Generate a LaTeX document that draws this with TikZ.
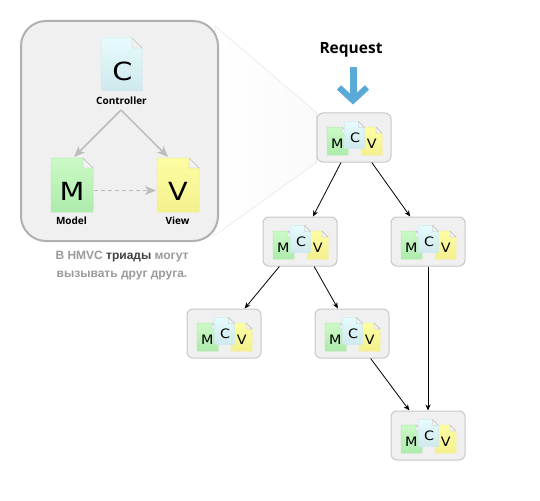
\documentclass[tikz,border=0pt]{standalone}
\usepackage{fontspec}
\setmainfont{Open Sans}
\newfontfamily\captionfont{Liberation Sans}
\newfontfamily\letterfont{DejaVu Sans}
\usetikzlibrary{arrows.meta}
\usetikzlibrary{backgrounds}
\usetikzlibrary{calc}

\definecolor{boxfill}{HTML}{F0F0F0}
\definecolor{boxline}{HTML}{C8C8C8}
\definecolor{panelline}{HTML}{B0B0B0}
\definecolor{mvcarrow}{HTML}{BDBDBD}
\definecolor{reqblue}{HTML}{5AA9D6}
\definecolor{captiongray}{HTML}{9A9A9A}
\definecolor{ctop}{HTML}{E6FBFD}
\definecolor{cbot}{HTML}{CFE9EC}
\definecolor{mtop}{HTML}{CBFAC6}
\definecolor{mbot}{HTML}{AEEBAC}
\definecolor{vtop}{HTML}{FDFDA2}
\definecolor{vbot}{HTML}{F4F08E}

\tikzset{
  triadbox/.style={draw=boxline, fill=boxfill, rounded corners=6, line width=1,
    minimum width=74, minimum height=49, inner sep=0},
  biglabel/.style={font=\fontsize{10}{11}\selectfont\bfseries, inner sep=0},
  bigletter/.style={font=\letterfont\fontsize{25}{25}\selectfont, xscale=1.15, inner sep=0},
  smallletter/.style={font=\letterfont\fontsize{13}{13}\selectfont, xscale=1.1, inner sep=0},
  calls/.style={-{Stealth[length=6,width=5]}, line width=0.8, black},
  mvclink/.style={-{Stealth[length=11,width=9,inset=3]}, line width=1.6, mvcarrow},
}

% one page icon: left, top, width, height, fold, top colour, bottom colour
\newcommand{\docicon}[7]{
  \path[draw=#7, line width=0.5, top color=#6, bottom color=#7]
    (#1,#2) -- ({#1+#3-#5},#2) -- ({#1+#3},{#2+#5}) -- ({#1+#3},{#2+#4}) -- (#1,{#2+#4}) -- cycle;
  \path[draw=gray!50, line width=0.4, fill=white!90!gray]
    ({#1+#3-#5},#2) -- ({#1+#3-#5},{#2+#5}) -- ({#1+#3},{#2+#5}) -- cycle;
}

\begin{document}
\begin{tikzpicture}[x=1pt, y=-1pt]
\useasboundingbox (0,0) rectangle (540,500);

% zoomed triad
\node[draw=panelline, fill=boxfill, rounded corners=25, line width=2,
   minimum width=197, minimum height=220, inner sep=0] (panel) at (119.5,131) {};
\docicon{101}{38}{41}{53}{10}{ctop}{cbot}
\docicon{51}{158}{42}{54}{10}{mtop}{mbot}
\docicon{157}{158}{42}{54}{10}{vtop}{vbot}
\node[bigletter] (bigc) at (122.5,71) {C};
\node[bigletter] (bigm) at (72,191) {M};
\node[bigletter] (bigv) at (178,191) {V};
\node[biglabel] (ctrl) at (121.5,100.5) {Controller};
\node[biglabel] (model) at (71.5,220.5) {Model};
\node[biglabel] (view) at (177.5,220.5) {View};
\coordinate (fork) at (121,110);
\coordinate (modeltop) at (74,157);
\coordinate (viewtop) at (168,157);
\coordinate (modelright) at (94,190.5);
\coordinate (viewleft) at (156,190.5);
\draw[mvclink] (fork) -- (modeltop);
\draw[mvclink] (fork) -- (viewtop);
\draw[mvclink, line width=1.3, dash pattern=on 4 off 3] (modelright) -- (viewleft);

\node[font=\captionfont\fontsize{12}{18}\selectfont\bfseries, text=captiongray,
   align=center, inner sep=0] (caption) at (122,266)
  {В HMVC \textcolor{black!75}{триады} могут\\вызывать друг друга.};

% tree of triads
\node[triadbox] (root) at (354,137.5) {};
\node[triadbox] (midl) at (300,241.5) {};
\node[triadbox] (midr) at (428,241.5) {};
\node[triadbox] (leafl) at (224,333.5) {};
\node[triadbox] (leafm) at (352,333.5) {};
\node[triadbox] (leafb) at (428,435.5) {};

\foreach \n in {root,midl,midr,leafl,leafm,leafb} {
  \begin{scope}[shift={(\n)}]
    \docicon{-27}{-10.5}{21}{28}{6}{mtop}{mbot}
    \docicon{7}{-10.5}{21}{28}{6}{vtop}{vbot}
    \docicon{-9.5}{-16}{20}{27}{6}{ctop}{cbot}
    \node[smallletter] (\n-m) at (-16.7,6.5) {M};
    \node[smallletter] (\n-c) at (1,0.5) {C};
    \node[smallletter] (\n-v) at (17.7,6.5) {V};
  \end{scope}
}

\draw[calls] (root) -- (midl);
\draw[calls] (root) -- (midr);
\draw[calls] (midl) -- (leafl);
\draw[calls] (midl) -- (leafm);
\draw[calls] (midr) -- (leafb);
\draw[calls] (leafm) -- (leafb);

% request
\node[font=\fontsize{15.5}{16}\selectfont\bfseries, inner sep=0] (request) at (351,50) {Request};
\draw[reqblue, line width=7, -{Straight Barb[length=13,width=28,line width=6]}, shorten <=9, shorten >=8]
  (request.south -| root.north) ++(-1,0) coordinate (reqstart) -- (reqstart |- root.north);

% zoom wedge
\begin{scope}[on background layer]
\draw[black!9, left color=white, right color=black!2, line width=0.6]
  ($(panel.north east)+(-4,6)$) -- (root.north west) -- (root.south west)
  -- ($(panel.south east)+(-5,-6)$) -- cycle;
\end{scope}
\end{tikzpicture}
\end{document}
